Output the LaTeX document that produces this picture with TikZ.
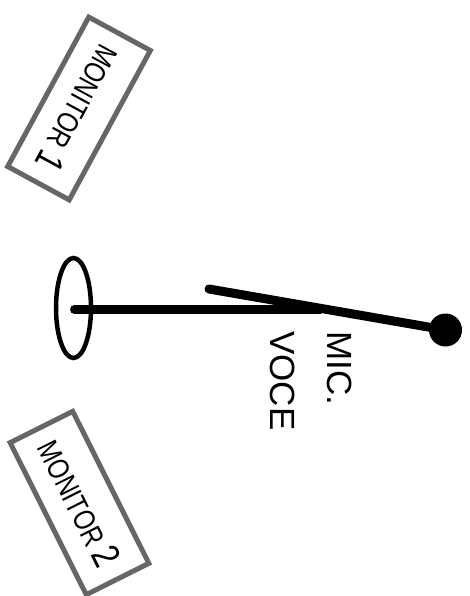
\documentclass[tikz,border=0pt]{standalone}
\usepackage{fontspec}
\setmainfont{Liberation Sans}
\newfontfamily\condfont[FakeStretch=0.8]{Liberation Sans}
\usetikzlibrary{shapes.geometric}
\definecolor{mongray}{HTML}{666666}
\begin{document}
\begin{tikzpicture}[x=1pt,y=-1pt,
  monitor/.style={draw=mongray,line width=5pt,minimum width=170pt,minimum height=70pt,inner sep=0pt,font=\condfont\fontsize{30}{34}\selectfont},
  stand/.style={line width=9pt,line cap=round},
  lbl/.style={inner sep=0pt,rotate=-90,anchor=base west,font=\fontsize{35}{42}\selectfont}]
\useasboundingbox (0,0) rectangle (470,596);
\node[monitor,rotate=-118.5] (m1) at (79,108.5) {MONITOR {\fontsize{39}{40}\selectfont 1}};
\node[monitor,rotate=-63.4] (m2) at (79.5,503) {MONITOR {\fontsize{39}{40}\selectfont 2}};
\node[draw,line width=4.5pt,ellipse,minimum width=35pt,minimum height=100pt,inner sep=0pt] (base) at (73.5,308) {};
\coordinate (bc) at (74.5,309.5);
\coordinate (be) at (320,309.5);
\coordinate (bs) at (209,289);
\node[circle,fill=black,minimum size=33pt,inner sep=0pt] (mic) at (445.5,330) {};
\draw[stand] (bc) -- (be);
\draw[stand] (bs) -- (mic.center);
\node[lbl] (t1) at (327,331) {MIC.};
\node[lbl] (t2) at (270,331) {VOCE};
\end{tikzpicture}
\end{document}
